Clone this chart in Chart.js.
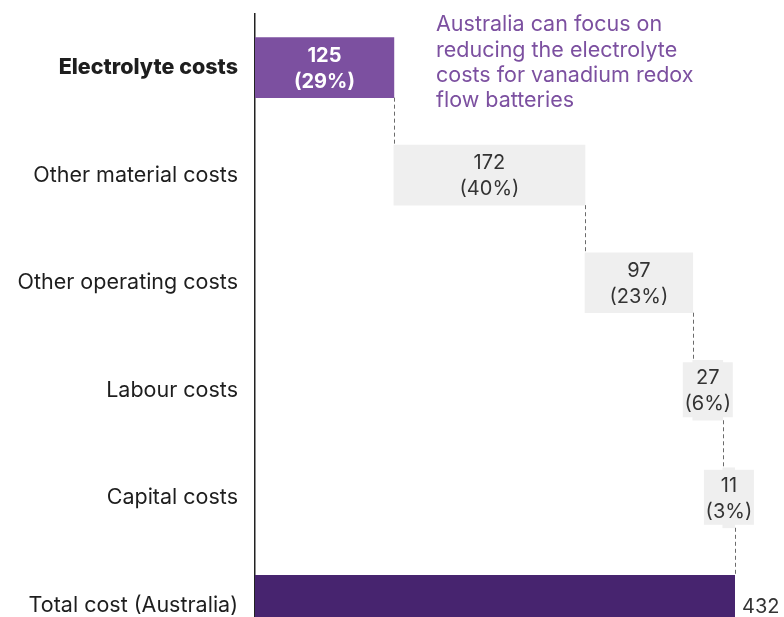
<!DOCTYPE html>
<html>
<head>
<meta charset="utf-8">
<script src="https://cdn.jsdelivr.net/npm/chart.js@4.4.1/dist/chart.umd.min.js"></script>
<style>
  html, body { margin: 0; padding: 0; background: #fff; overflow: hidden; }
  #wrap { width: 784px; height: 617px; overflow: hidden; }
  /* tick padding pushes the plot area down; pull the canvas up to compensate */
  #waterfall { display: block; margin-top: -16px; }
</style>
</head>
<body>
<div id="wrap"><canvas id="waterfall" width="784" height="705"></canvas></div>
<script>
// ==================== DATA ====================
const CATEGORIES = ['Electrolyte costs', 'Other material costs', 'Other operating costs', 'Labour costs', 'Capital costs', 'Total cost (Australia)'];
const COSTS = [125, 172, 97, 27, 11];
const SHARES = [29, 40, 23, 6, 3];
const TOTAL = 432;
const NOTE_LINES = ['Australia can focus on', 'reducing the electrolyte', 'costs for vanadium redox', 'flow batteries'];

const FONT = 'Inter, "Open Sans", sans-serif';
const PURPLE = '#7c50a0';
const DARK_PURPLE = '#47246f';
const GREY = '#efefef';
const SHIFT = 16; // canvas offset from the top of the page

// floating ranges for the waterfall steps, then the total bar from zero
let run = 0;
const ranges = COSTS.map(v => { const r = [run, run + v]; run += v; return r; });
ranges.push([0, TOTAL]);
const barColors = CATEGORIES.map((c, i) => i === 0 ? PURPLE : (i === CATEGORIES.length - 1 ? DARK_PURPLE : GREY));

// dashed connectors between steps, value labels, and the side note
const waterfallDecor = {
  id: 'waterfallDecor',
  afterDatasetsDraw(chart) {
    const ctx = chart.ctx;
    const bars = chart.getDatasetMeta(0).data;
    const half = b => b.height / 2;

    ctx.save();
    ctx.strokeStyle = '#6b6b6b';
    ctx.lineWidth = 1;
    ctx.setLineDash([4, 3]);
    for (let i = 0; i < bars.length - 1; i++) {
      const a = bars[i], b = bars[i + 1];
      const x = Math.round(a.x) + 0.5;
      ctx.beginPath();
      ctx.moveTo(x, a.y + half(a));
      ctx.lineTo(x, b.y - half(b));
      ctx.stroke();
    }
    ctx.setLineDash([]);

    ctx.textAlign = 'center';
    ctx.textBaseline = 'middle';
    COSTS.forEach((v, i) => {
      const b = bars[i];
      const cx = (b.x + b.base) / 2;
      const lines = [String(v), '(' + SHARES[i] + '%)'];
      const bold = i === 0;
      ctx.font = (bold ? '700 ' : '400 ') + '20px ' + FONT;
      const w = Math.max(...lines.map(t => ctx.measureText(t).width));
      const barW = Math.abs(b.x - b.base);
      if (barW < w + 8) {
        // narrow step: grey box behind the figures
        ctx.fillStyle = GREY;
        ctx.fillRect(cx - 25, b.y - 28, 50, 55);
      }
      ctx.fillStyle = bold ? '#ffffff' : '#333333';
      ctx.fillText(lines[0], cx, b.y - 12);
      ctx.fillText(lines[1], cx, b.y + 14);
    });

    const t = bars[bars.length - 1];
    ctx.textAlign = 'left';
    ctx.fillStyle = '#333333';
    ctx.font = '400 20px ' + FONT;
    ctx.fillText(String(TOTAL), t.x + 7, t.y + 2);

    ctx.fillStyle = PURPLE;
    ctx.font = '400 21.5px ' + FONT;
    NOTE_LINES.forEach((line, i) => ctx.fillText(line, 436, SHIFT + 25 + i * 25.3));
    ctx.restore();
  }
};

new Chart(document.getElementById('waterfall'), {
  type: 'bar',
  data: {
    labels: CATEGORIES,
    datasets: [{
      data: ranges,
      backgroundColor: barColors,
      borderWidth: 0,
      borderSkipped: false,
      barThickness: 60
    }]
  },
  options: {
    indexAxis: 'y',
    responsive: false,
    animation: false,
    devicePixelRatio: 1,
    layout: { padding: { top: 0, bottom: 0, right: 49, left: 0 } },
    plugins: { legend: { display: false }, tooltip: { enabled: false } },
    scales: {
      x: { display: false, min: 0, max: TOTAL },
      y: {
        grid: { display: false, drawTicks: false },
        border: { display: true, color: '#222222', width: 1.5 },
        afterFit: s => { s.width = 255; },
        ticks: {
          padding: 17,
          color: '#1e1e1e',
          font: c => ({ family: FONT, size: 21.5, weight: c.index === 0 ? '800' : '400' })
        }
      }
    }
  },
  plugins: [waterfallDecor]
});
</script>
</body>
</html>
